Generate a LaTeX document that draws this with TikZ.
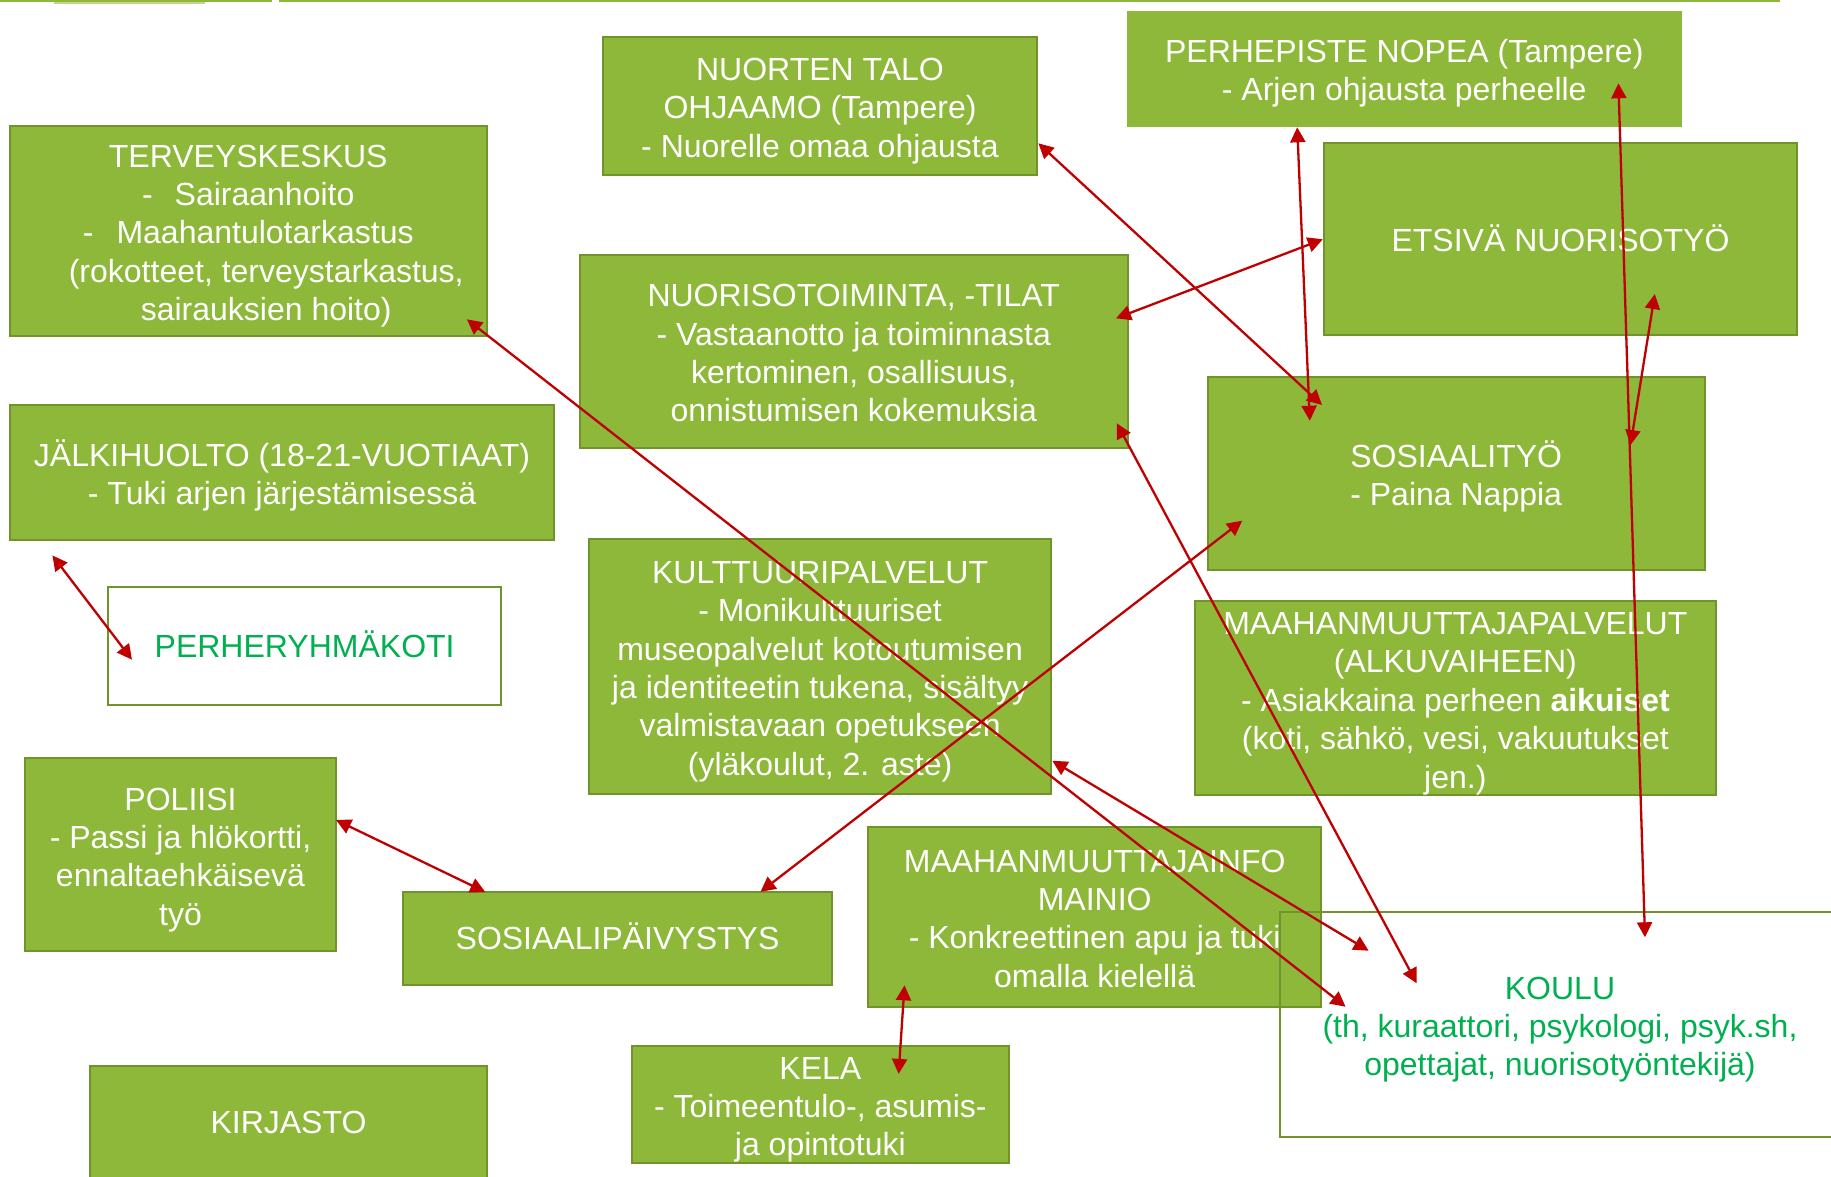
\documentclass[tikz,border=0pt]{standalone}
\usepackage{fontspec}
\setmainfont{Liberation Sans}
\usetikzlibrary{arrows.meta}
\definecolor{boxgreen}{RGB}{141,184,58}
\definecolor{boxline}{RGB}{112,147,43}
\definecolor{arrowred}{RGB}{192,0,0}
\definecolor{textgreen}{RGB}{0,176,80}
\definecolor{bandgreen}{RGB}{190,215,140}
\newcommand\boxfont{\fontsize{32}{38.4}\selectfont}
\newcommand\bs{\rule[-7.3pt]{0pt}{37.3pt}}
\newcommand\bt{\rule[-7.3pt]{0pt}{40.3pt}}
\tikzset{
  gbox/.style={draw=boxline, fill=boxgreen, line width=2pt, text=white,
    align=center, inner sep=0pt, font=\boxfont},
  wbox/.style={draw=boxline, line width=2pt, text=textgreen,
    align=center, inner sep=0pt, font=\boxfont},
  arr/.style={draw=arrowred, line width=2.3pt,
    {Triangle[length=15pt,width=15pt]}-{Triangle[length=15pt,width=15pt]}},
  topline/.style={draw=boxgreen, line width=2.5pt}
}
\begin{document}
\begin{tikzpicture}[x=1pt,y=-1pt]
\useasboundingbox (0,0) rectangle (1831,1176);
% top rule
\fill[bandgreen] (54,0) rectangle (205,4);
\draw[topline] (0,1.2) -- (272,1.2);
\draw[topline] (279,1.2) -- (1780,1.2);
% boxes
\node[gbox, minimum width=434pt, minimum height=138pt] (nuorten) at (820,106)
  {\bt NUORTEN TALO\\OHJAAMO (Tampere)\\- Nuorelle omaa ohjausta\bs};
\node[gbox, draw=none, minimum width=554.5pt, minimum height=115.7pt] (perhepiste) at (1404.25,68.85)
  {\bt PERHEPISTE NOPEA (Tampere)\\- Arjen ohjausta perheelle\bs};
\node[gbox, minimum width=476.5pt, minimum height=210pt] (terv) at (248.25,231)
  {\bt TERVEYSKESKUS\\-\hspace{22pt}Sairaanhoito\\-\hspace{23pt}Maahantulotarkastus\\\hspace*{36pt}(rokotteet, terveystarkastus,\\\hspace*{36pt}sairauksien hoito)\bs};
\node[gbox, minimum width=473pt, minimum height=192.6pt] (etsiva) at (1560.5,239)
  {\bt ETSIVÄ NUORISOTYÖ};
\node[gbox, minimum width=547.5pt, minimum height=192.7pt] (nuoriso) at (853.75,351.35)
  {\bt NUORISOTOIMINTA, -TILAT\\- Vastaanotto ja toiminnasta\\kertominen, osallisuus,\\onnistumisen kokemuksia\bs};
\node[gbox, minimum width=497pt, minimum height=193.3pt] (sosiaali) at (1456.2,473.35)
  {\bt SOSIAALITYÖ\\- Paina Nappia\bs};
\node[gbox, minimum width=544pt, minimum height=135pt] (jalki) at (282,472.5)
  {\bt JÄLKIHUOLTO (18-21-VUOTIAAT)\\- Tuki arjen järjestämisessä\bs};
\node[wbox, fill=white, minimum width=393.3pt, minimum height=118pt] (perhery) at (304.65,646)
  {\bs PERHERYHMÄKOTI};
\node[gbox, minimum width=461.4pt, minimum height=255pt] (kulttuuri) at (820.1,666.5)
  {\bt KULTTUURIPALVELUT\\- Monikulttuuriset\\museopalvelut kotoutumisen\\ja identiteetin tukena, sisältyy\\valmistavaan opetukseen\\(yläkoulut, 2. aste)\bs};
\node[gbox, minimum width=520.7pt, minimum height=193.3pt] (maahanp) at (1455.35,698.35)
  {\bt MAAHANMUUTTAJAPALVELUT\\(ALKUVAIHEEN)\\- Asiakkaina perheen \textbf{aikuiset}\\(koti, sähkö, vesi, vakuutukset\\jen.)\bs};
\node[gbox, minimum width=311pt, minimum height=193.1pt] (poliisi) at (180.5,854.85)
  {\bt POLIISI\\- Passi ja hlökortti,\\ennaltaehkäisevä\\työ\bs};
\node[gbox, minimum width=429pt, minimum height=92.6pt] (sospaiv) at (617.5,938.3)
  {\bs SOSIAALIPÄIVYSTYS};
\node[gbox, minimum width=453.3pt, minimum height=180.3pt] (mainio) at (1094.65,916.85)
  {\bt MAAHANMUUTTAJAINFO\\MAINIO\\- Konkreettinen apu ja tuki\\omalla kielellä\bs};
\node[gbox, minimum width=376.7pt, minimum height=112.7pt] (kela) at (820.35,1104.65)
  {\bt KELA\\- Toimeentulo-, asumis-\\ja opintotuki\bs};
\node[wbox, minimum width=560pt, minimum height=225.3pt] (koulu) at (1560,1024.65)
  {\bt KOULU\\(th, kuraattori, psykologi, psyk.sh,\\opettajat, nuorisotyöntekijä)\bs};
\node[gbox, minimum width=397pt, minimum height=112pt] (kirjasto) at (288.5,1122)
  {\bs KIRJASTO};
% connectors
\draw[arr] ([shift={(-229.6,82.9)}]jalki.center) -- ([shift={(-172.65,13.7)}]perhery.center);
\draw[arr] ([shift={(218.65,88.3)}]terv.center) -- ([shift={(-214.4,-17.95)}]koulu.center);
\draw[arr] ([shift={(218.4,37.3)}]nuorten.center) -- ([shift={(-134.2,-68.35)}]sosiaali.center);
\draw[arr] ([shift={(-237.7,0.3)}]etsiva.center) -- ([shift={(262.25,-33.05)}]nuoriso.center);
\draw[arr] ([shift={(-107.05,58.45)}]perhepiste.center) -- ([shift={(-146.4,-52.65)}]sosiaali.center);
\draw[arr] ([shift={(214.15,14.45)}]perhepiste.center) -- ([shift={(85,-87.35)}]koulu.center);
\draw[arr] ([shift={(94.3,55)}]etsiva.center) -- ([shift={(174.3,-28.35)}]sosiaali.center);
\draw[arr] ([shift={(263.05,71.95)}]nuoriso.center) -- ([shift={(-143.3,-41.35)}]koulu.center);
\draw[arr] ([shift={(-214,47.35)}]sosiaali.center) -- ([shift={(143,-46.5)}]sospaiv.center);
\draw[arr] ([shift={(232.2,94.2)}]kulttuuri.center) -- ([shift={(-191.4,-73.95)}]koulu.center);
\draw[arr] ([shift={(155.5,-34.85)}]poliisi.center) -- ([shift={(-132.2,-46.3)}]sospaiv.center);
\draw[arr] ([shift={(-190.15,68.45)}]mainio.center) -- ([shift={(78.25,-30.75)}]kela.center);
\end{tikzpicture}
\end{document}
